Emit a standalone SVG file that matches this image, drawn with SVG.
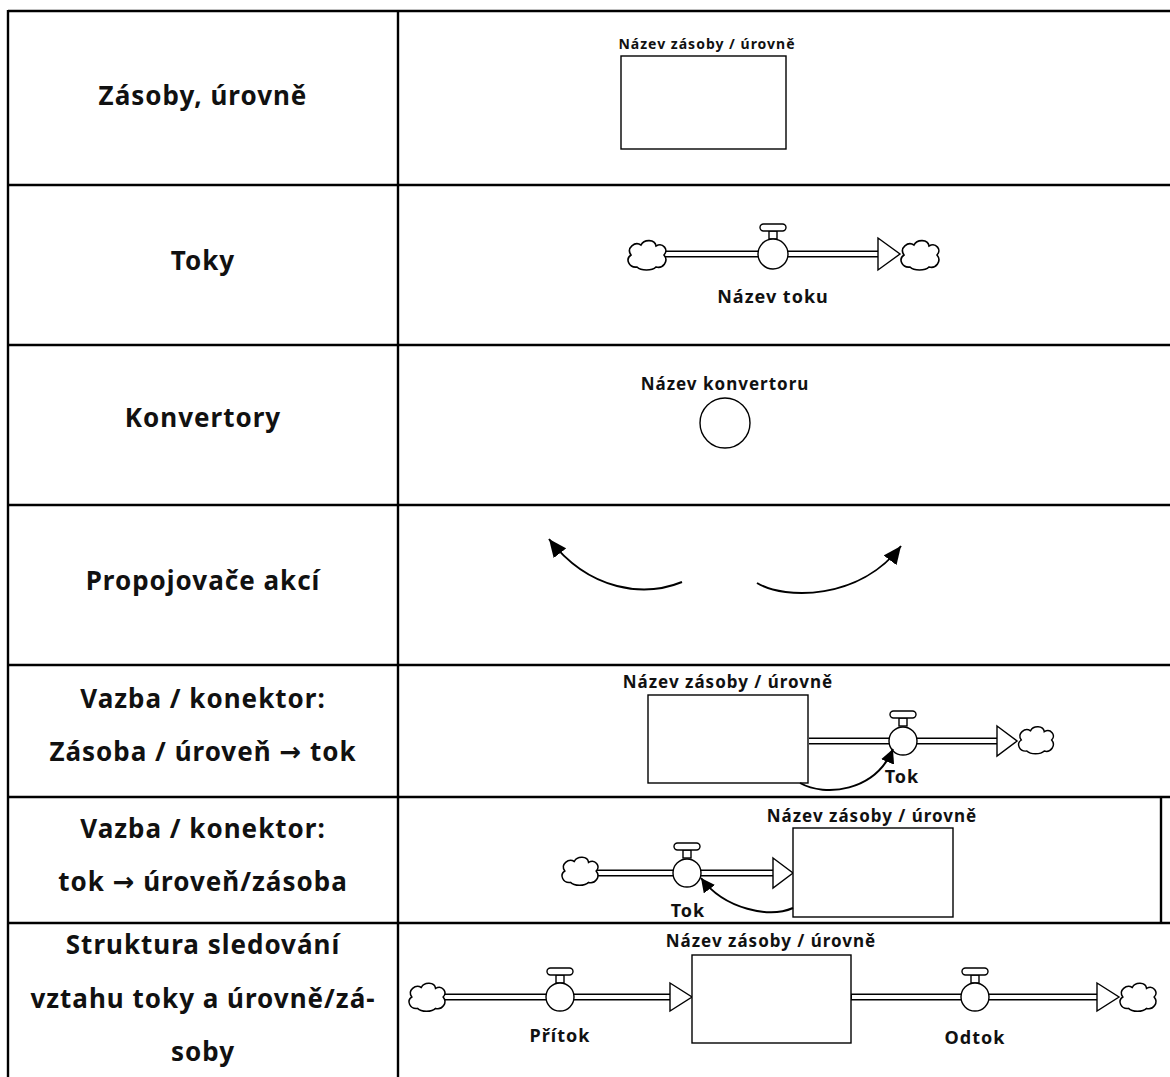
<svg xmlns="http://www.w3.org/2000/svg" width="1170" height="1077" viewBox="0 0 1170 1077">
  <style>
    .grid { stroke: #000; stroke-width: 2.4; fill: none; }
    .head { font-family: "Noto Sans", "DejaVu Sans", sans-serif; font-weight: bold; font-size: 26px; letter-spacing: 1px; fill: #111; text-anchor: middle; }
    .lbl { font-family: "Noto Sans", "DejaVu Sans", sans-serif; font-weight: bold; fill: #111; text-anchor: middle; letter-spacing: 1px; }
    .shape { fill: #fff; stroke: #000; stroke-width: 1.4; }
    .pipe-out { stroke: #000; stroke-width: 7; fill: none; }
    .pipe-in { stroke: #fff; stroke-width: 4.2; fill: none; }
    .link { fill: none; stroke: #000; stroke-width: 2; }
  </style>
  <defs>
    <path id="cloud" d="M -10,12 C -18,13 -22,4 -16,0 C -21,-7 -12,-14 -6,-10 C -3,-16 8,-16 9,-9 C 16,-13 22,-5 17,0 C 22,6 16,14 9,12 C 5,16 -6,16 -10,12 Z" fill="#fff" stroke="#000" stroke-width="1.6"/>
    <g id="valve-handle">
      <rect x="-4" y="-8" width="8" height="8" fill="#fff" stroke="#000" stroke-width="1.4"/>
      <rect x="-13" y="-15" width="26" height="7" rx="3.5" fill="#fff" stroke="#000" stroke-width="1.4"/>
    </g>
    <marker id="arrow-lg" markerUnits="userSpaceOnUse" markerWidth="20" markerHeight="16" refX="18" refY="8" orient="auto">
      <path d="M0,0 L18,8 L0,16 Z" fill="#000"/>
    </marker>
    <marker id="arrow-sm" markerUnits="userSpaceOnUse" markerWidth="16" markerHeight="14" refX="14" refY="7" orient="auto">
      <path d="M0,0 L14,7 L0,14 Z" fill="#000"/>
    </marker>
  </defs>

  <!-- table grid -->
  <g id="grid" class="grid">
    <line x1="8" y1="11" x2="1170" y2="11"/>
    <line x1="8" y1="185" x2="1170" y2="185"/>
    <line x1="8" y1="345" x2="1170" y2="345"/>
    <line x1="8" y1="505" x2="1170" y2="505"/>
    <line x1="8" y1="665" x2="1170" y2="665"/>
    <line x1="8" y1="797" x2="1170" y2="797"/>
    <line x1="8" y1="923" x2="1170" y2="923"/>
    <line x1="8" y1="10" x2="8" y2="1077"/>
    <line x1="398" y1="10" x2="398" y2="1077"/>
    <line x1="1161" y1="797" x2="1161" y2="923"/>
  </g>

  <!-- row headings -->
  <g id="headings" class="head">
    <text x="203" y="105">Zásoby, úrovně</text>
    <text x="203" y="270">Toky</text>
    <text x="203" y="427">Konvertory</text>
    <text x="203" y="590">Propojovače akcí</text>
    <text x="203" y="708">Vazba / konektor:</text>
    <text x="203" y="761">Zásoba / úroveň → tok</text>
    <text x="203" y="838">Vazba / konektor:</text>
    <text x="203" y="891">tok → úroveň/zásoba</text>
    <text x="203" y="954">Struktura sledování</text>
    <text x="203" y="1008">vztahu toky a úrovně/zá-</text>
    <text x="203" y="1061">soby</text>
  </g>

  <!-- row 1: stock -->
  <g id="stock-1">
    <rect class="shape" x="621" y="56" width="165" height="93"/>
    <text class="lbl" x="707" y="49" font-size="14">Název zásoby / úrovně</text>
  </g>

  <!-- row 2: flow -->
  <g id="flow-2">
    <line class="pipe-out" x1="662" y1="254" x2="880" y2="254"/>
    <line class="pipe-in" x1="660" y1="254" x2="880" y2="254"/>
    <use href="#cloud" transform="translate(647,255)"/>
    <use href="#cloud" transform="translate(920,255)"/>
    <polygon class="shape" points="878,238 900,254 878,270"/>
    <use href="#valve-handle" transform="translate(773,239)"/>
    <circle class="shape" cx="773" cy="254" r="15"/>
    <text class="lbl" x="773" y="303" font-size="18">Název toku</text>
  </g>

  <!-- row 3: converter -->
  <g id="converter-3">
    <circle class="shape" cx="725" cy="423" r="25"/>
    <text class="lbl" x="725" y="390" font-size="17">Název konvertoru</text>
  </g>

  <!-- row 4: action connectors -->
  <g id="connectors-4">
    <path class="link" d="M682,582 C645,597 590,592 549,539" marker-end="url(#arrow-lg)"/>
    <path class="link" d="M757,583 C785,600 860,600 901,546" marker-end="url(#arrow-lg)"/>
  </g>

  <!-- row 5: stock to flow link -->
  <g id="stock-5">
    <rect class="shape" x="648" y="695" width="160" height="88"/>
    <text class="lbl" x="728" y="688" font-size="17">Název zásoby / úrovně</text>
  </g>
  <g id="flow-5">
    <line class="pipe-out" x1="809" y1="741" x2="1000" y2="741"/>
    <line class="pipe-in" x1="809" y1="741" x2="1000" y2="741"/>
    <use href="#cloud" transform="translate(1036,740) scale(0.92)"/>
    <polygon class="shape" points="997,726 1017,741 997,756"/>
    <use href="#valve-handle" transform="translate(903,726)"/>
    <circle class="shape" cx="903" cy="741" r="14"/>
    <text class="lbl" x="902" y="783" font-size="18">Tok</text>
  </g>

  <!-- row 6: flow to stock link -->
  <g id="flow-6">
    <line class="pipe-out" x1="596" y1="873" x2="776" y2="873"/>
    <line class="pipe-in" x1="594" y1="873" x2="776" y2="873"/>
    <use href="#cloud" transform="translate(580,871) scale(0.95)"/>
    <polygon class="shape" points="773,858 793,873 773,888"/>
    <use href="#valve-handle" transform="translate(687,858)"/>
    <circle class="shape" cx="687" cy="873" r="14"/>
    <text class="lbl" x="688" y="917" font-size="18">Tok</text>
  </g>
  <g id="stock-6">
    <rect class="shape" x="793" y="828" width="160" height="89"/>
    <text class="lbl" x="872" y="822" font-size="17">Název zásoby / úrovně</text>
  </g>

  <!-- row 7: inflow / stock / outflow -->
  <g id="inflow-7">
    <line class="pipe-out" x1="444" y1="997" x2="672" y2="997"/>
    <line class="pipe-in" x1="442" y1="997" x2="672" y2="997"/>
    <use href="#cloud" transform="translate(427,997) scale(0.95)"/>
    <polygon class="shape" points="670,983 692,997 670,1011"/>
    <use href="#valve-handle" transform="translate(560,983)"/>
    <circle class="shape" cx="560" cy="997" r="14"/>
    <text class="lbl" x="560" y="1042" font-size="18">Přítok</text>
  </g>
  <g id="stock-7">
    <rect class="shape" x="692" y="955" width="159" height="88"/>
    <text class="lbl" x="771" y="947" font-size="17">Název zásoby / úrovně</text>
  </g>
  <g id="outflow-7">
    <line class="pipe-out" x1="851" y1="997" x2="1099" y2="997"/>
    <line class="pipe-in" x1="852" y1="997" x2="1099" y2="997"/>
    <use href="#cloud" transform="translate(1138,997) scale(0.95)"/>
    <polygon class="shape" points="1097,983 1119,997 1097,1011"/>
    <use href="#valve-handle" transform="translate(975,983)"/>
    <circle class="shape" cx="975" cy="997" r="14"/>
    <text class="lbl" x="975" y="1044" font-size="18">Odtok</text>
  </g>

  <!-- information links -->
  <g id="links">
    <path class="link" d="M800,783 C825,797 875,792 893,749" marker-end="url(#arrow-sm)"/>
    <path class="link" d="M793,908 C770,918 725,910 701,878" marker-end="url(#arrow-sm)"/>
  </g>
</svg>
